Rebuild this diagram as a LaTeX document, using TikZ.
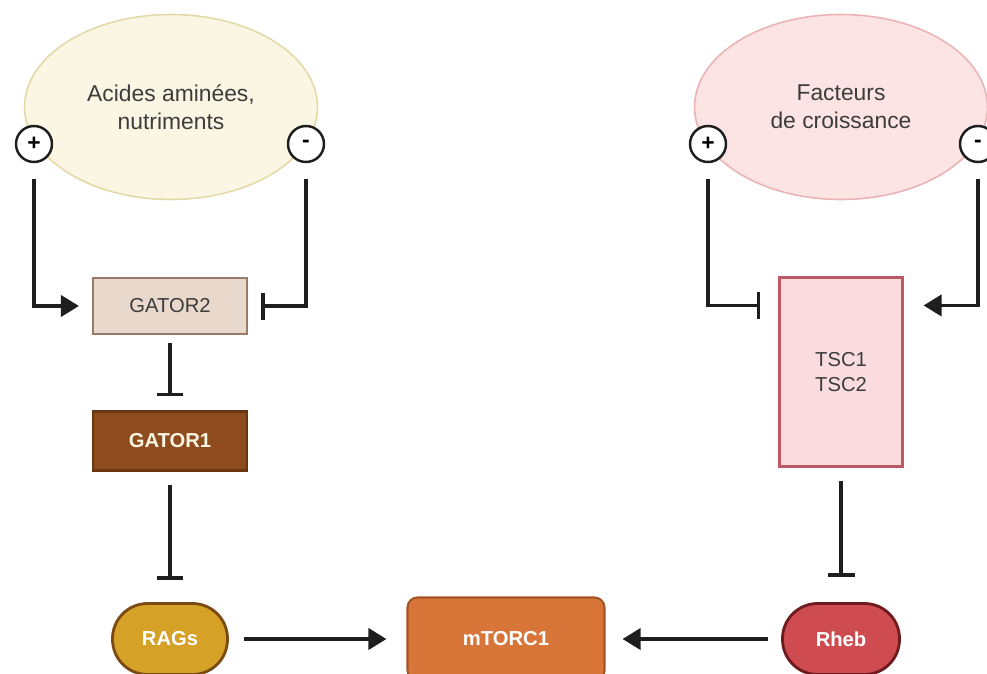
\documentclass[tikz,border=0pt]{standalone}
\usepackage{fontspec}
\setmainfont{Liberation Sans}
\usetikzlibrary{shapes,arrows.meta,calc}

\definecolor{creamfill}{HTML}{FBF6E3}
\definecolor{creamline}{HTML}{E3D9A8}
\definecolor{rosefill}{HTML}{FCE4E4}
\definecolor{roseline}{HTML}{EBB3B3}
\definecolor{gtwofill}{HTML}{E9D9CD}
\definecolor{gtwoline}{HTML}{9A7A68}
\definecolor{gonefill}{HTML}{8E4B1D}
\definecolor{goneline}{HTML}{6A3612}
\definecolor{tscfill}{HTML}{FADCDF}
\definecolor{tscline}{HTML}{BD5865}
\definecolor{ragfill}{HTML}{D5A126}
\definecolor{ragline}{HTML}{7A4A12}
\definecolor{mtorfill}{HTML}{D8763A}
\definecolor{mtorline}{HTML}{A45424}
\definecolor{rhebfill}{HTML}{CE4B4F}
\definecolor{rhebline}{HTML}{6E1A1E}
\definecolor{txtgray}{HTML}{3C3C3C}
\definecolor{linkgray}{HTML}{1E1E1E}

\begin{document}
\begin{tikzpicture}[x=0.02cm,y=-0.02cm,
    cloud/.style={ellipse,draw,line width=0.9pt,inner sep=0pt,
        minimum width=5.86cm,minimum height=3.7cm,align=center,
        text=txtgray,font=\fontsize{13}{16}\selectfont},
    sign/.style={circle,draw=linkgray,fill=white,line width=1.4pt,inner sep=0pt,
        minimum size=0.72cm,font=\bfseries\fontsize{13}{13}\selectfont},
    prot/.style={rectangle,draw,line width=1.2pt,inner sep=0pt,align=center,
        font=\fontsize{11.5}{14}\selectfont},
    pill/.style={prot,line width=1.6pt,rounded corners=0.7cm,minimum width=2.3cm,
        minimum height=1.42cm,text=white,font=\bfseries\fontsize{11.5}{14}\selectfont},
    act/.style={draw=linkgray,line width=2.1pt,-{Triangle[length=0.36cm,width=0.42cm]}},
    inh/.style={draw=linkgray,line width=2.1pt,-{Bar[width=0.54cm,line width=2.1pt]}}]

    \useasboundingbox (0,0) rectangle (987,673);
    \clip (0,0) rectangle (987,673);

    % signaux
    \node[cloud,fill=creamfill,draw=creamline] (amino) at (171,107)
        {Acides aminées,\\nutriments};
    \node[cloud,fill=rosefill,draw=roseline] (growth) at (841,107)
        {Facteurs\\de croissance};

    \node[sign] (plusA) at (34,144) {+};
    \node[sign] (minusA) at (306,144) {-};
    \node[sign] (plusB) at (708,144) {+};
    \node[sign] (minusB) at (978,144) {-};

    % proteines
    \node[prot,fill=gtwofill,draw=gtwoline,text=txtgray,
        minimum width=3.08cm,minimum height=1.12cm] (gator2) at (170,306) {GATOR2};
    \node[prot,fill=gonefill,draw=goneline,text=creamfill,
        minimum width=3.08cm,minimum height=1.18cm,
        font=\bfseries\fontsize{11.5}{14}\selectfont] (gator1) at (170,441) {GATOR1};
    \node[prot,fill=tscfill,draw=tscline,text=txtgray,
        minimum width=2.46cm,minimum height=3.78cm] (tsc) at (841,372) {TSC1\\TSC2};

    \node[pill,fill=ragfill,draw=ragline] (rags) at (170,639) {RAGs};
    \node[pill,fill=rhebfill,draw=rhebline,minimum width=2.34cm] (rheb) at (841,639) {Rheb};
    \node[prot,fill=mtorfill,draw=mtorline,text=white,rounded corners=0.2cm,
        minimum width=3.94cm,minimum height=1.66cm,
        font=\bfseries\fontsize{11.5}{14}\selectfont] (mtorc) at (506,639) {mTORC1};

    % voie acides amines
    \draw[act,shorten <=0.32cm,shorten >=0.26cm] (plusA) |- (gator2);
    \draw[inh,shorten <=0.32cm,shorten >=0.26cm] (minusA) |- (gator2);
    \draw[inh,shorten <=0.16cm,shorten >=0.28cm] (gator2) -- (gator1);
    \draw[inh,shorten <=0.26cm,shorten >=0.44cm] (gator1) -- (rags);
    \draw[act,shorten <=0.3cm,shorten >=0.4cm] (rags) -- (mtorc);

    % voie facteurs de croissance
    \draw[inh,shorten <=0.32cm,shorten >=0.36cm] (plusB) |- ([yshift=-0.58cm]tsc.north west);
    \draw[act,shorten <=0.32cm,shorten >=0.4cm] (minusB) |- ([yshift=-0.58cm]tsc.north east);
    \draw[inh,shorten <=0.26cm,shorten >=0.5cm] (tsc) -- (rheb);
    \draw[act,shorten <=0.26cm,shorten >=0.34cm] (rheb) -- (mtorc);

\end{tikzpicture}
\end{document}
